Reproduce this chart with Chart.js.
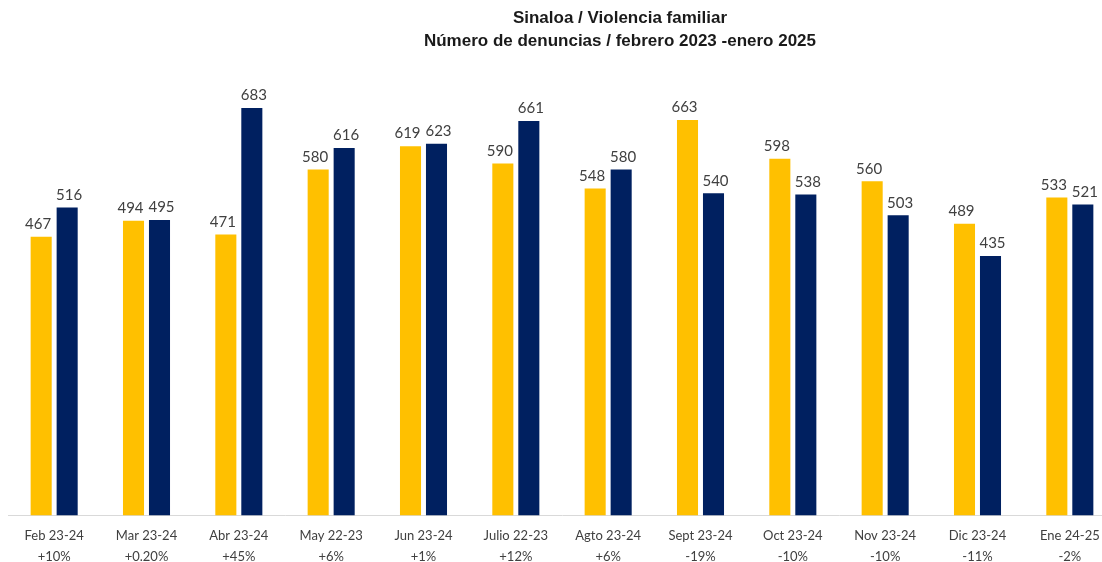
<!DOCTYPE html>
<html>
<head>
<meta charset="utf-8">
<script src="https://cdn.jsdelivr.net/npm/chart.js@4"></script>
<style>
  html, body { margin: 0; padding: 0; background: #fff; overflow: hidden; width: 1102px; height: 562px; }
  #wrap { position: relative; width: 1120px; height: 586px; }
  #title {
    position: absolute; left: 320px; width: 600px; top: 6px;
    text-align: center; font-family: 'Liberation Sans Narrow', 'Liberation Sans', sans-serif;
    font-weight: bold; font-size: 17px; line-height: 23px; color: #1a1a1a;
  }
</style>
</head>
<body>
<div id="wrap">
  <div id="title">Sinaloa / Violencia familiar<br>Número de denuncias / febrero 2023 -enero 2025</div>
  <canvas id="chart" width="1120" height="586"></canvas>
</div>
<script>
const months = ['Feb 23-24', 'Mar 23-24', 'Abr 23-24', 'May 22-23', 'Jun 23-24', 'Julio 22-23',
    'Agto 23-24', 'Sept 23-24', 'Oct 23-24', 'Nov 23-24', 'Dic 23-24', 'Ene 24-25'];
const changes = ['+10%', '+0.20%', '+45%', '+6%', '+1%', '+12%', '+6%', '-19%', '-10%', '-10%', '-11%', '-2%'];
const previousYear = [467, 494, 471, 580, 619, 590, 548, 663, 598, 560, 489, 533];
const currentYear = [516, 495, 683, 616, 623, 661, 580, 540, 538, 503, 435, 521];

// numbers over each bar, nudged apart a little like the original
const valueLabels = {
    id: 'valueLabels',
    afterDatasetsDraw(chart) {
        const ctx = chart.ctx;
        const nudge = [-3, 2];
        ctx.save();
        ctx.font = '15px Lato, sans-serif';
        ctx.fillStyle = '#404040';
        ctx.textAlign = 'center';
        ctx.textBaseline = 'bottom';
        chart.data.datasets.forEach(function (ds, i) {
            chart.getDatasetMeta(i).data.forEach(function (bar, j) {
                ctx.fillText(String(ds.data[j]), bar.x + nudge[i], bar.y - 5);
            });
        });
        ctx.restore();
    }
};

new Chart(document.getElementById('chart'), {
    type: 'bar',
    data: {
        labels: months.map(function (m, i) { return [m, changes[i]]; }),
        datasets: [
            { label: 'Año anterior', data: previousYear, backgroundColor: '#FFC000' },
            { label: 'Año actual', data: currentYear, backgroundColor: '#002060' }
        ]
    },
    options: {
        responsive: false,
        animation: false,
        layout: { padding: { left: 8, right: 4, top: 68, bottom: 9 } },
        datasets: { bar: { categoryPercentage: 0.563, barPercentage: 0.81 } },
        plugins: { legend: { display: false }, tooltip: { enabled: false } },
        scales: {
            x: {
                grid: { display: false, drawTicks: false },
                border: { display: true, color: '#D9D9D9', width: 1 },
                ticks: {
                    padding: 10,
                    maxRotation: 0,
                    autoSkip: false,
                    color: '#404040',
                    font: { family: 'Lato, sans-serif', size: 13, lineHeight: 1.6 }
                }
            },
            y: { display: false, min: 0, max: 750 }
        }
    },
    plugins: [valueLabels]
});
</script>
</body>
</html>
